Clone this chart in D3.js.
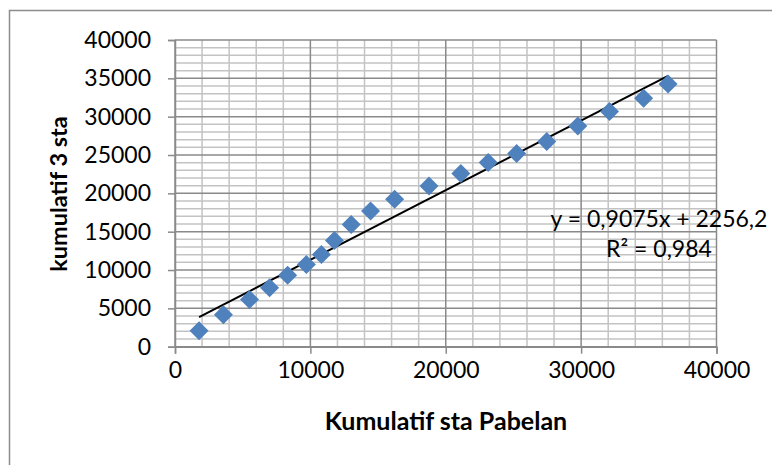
<!DOCTYPE html>
<html><head><meta charset="utf-8">
<script src="https://cdn.jsdelivr.net/npm/d3@7"></script>
<style>
html,body{margin:0;padding:0;background:#fff;}
svg{display:block;}
text{font-family:Lato,"Liberation Sans",sans-serif;fill:#000;}
</style></head>
<body><svg id="c" width="772" height="465"></svg>
<script>
const xValues = [1778, 3578, 5504, 6985, 8319, 9704, 10815, 11778, 13015, 14444, 16222, 18763, 21111, 23133, 25237, 27459, 29756, 32096, 34615, 36422];
const yValues = [2092, 4183, 6144, 7673, 9320, 10719, 12026, 13856, 15948, 17713, 19216, 20954, 22576, 24014, 25190, 26758, 28798, 30680, 32419, 34249];
const xTicks = [0, 10000, 20000, 30000, 40000];
const yTicks = [0, 5000, 10000, 15000, 20000, 25000, 30000, 35000, 40000];
const trendSlope = 0.9075, trendIntercept = 2256.2;
const eqLabel = "y = 0,9075x + 2256,2";
const r2Label = "R² = 0,984";
const xTitle = "Kumulatif sta Pabelan";
const yTitle = "kumulatif 3 sta";

const svg = d3.select("#c");
const L = 175, R = 716.5, T = 40, B = 346.7;
const x = d3.scaleLinear().domain([0, 40000]).range([L, R]);
const y = d3.scaleLinear().domain([0, 40000]).range([B, T]);

// outer chart border
svg.append("rect").attr("x", 9.5).attr("y", 10.5).attr("width", 800).attr("height", 500)
  .attr("fill", "none").attr("stroke", "#8c8c8c").attr("stroke-width", 1.5);

const g = svg.append("g");
// minor gridlines
const minorX = d3.range(0, 40001, 2000).filter(v => v % 10000 !== 0);
const minorY = d3.range(0, 40001, 1000).filter(v => v % 5000 !== 0);
g.selectAll(".mx").data(minorX).join("line")
  .attr("x1", d => x(d)).attr("x2", d => x(d)).attr("y1", T).attr("y2", B)
  .attr("stroke", "#c3c3c3").attr("stroke-width", 1.5);
g.selectAll(".my").data(minorY).join("line")
  .attr("x1", L).attr("x2", R).attr("y1", d => y(d)).attr("y2", d => y(d))
  .attr("stroke", "#c3c3c3").attr("stroke-width", 1.5);
// major gridlines
g.selectAll(".Mx").data(xTicks).join("line")
  .attr("x1", d => x(d)).attr("x2", d => x(d)).attr("y1", T).attr("y2", B)
  .attr("stroke", "#8a8a8a").attr("stroke-width", 1.5);
g.selectAll(".My").data(yTicks).join("line")
  .attr("x1", L).attr("x2", R).attr("y1", d => y(d)).attr("y2", d => y(d))
  .attr("stroke", "#8a8a8a").attr("stroke-width", 1.5);

// axes
const xAxis = d3.axisBottom(x).tickValues(xTicks).tickSize(7).tickPadding(8).tickFormat(d3.format("d"));
const yAxis = d3.axisLeft(y).tickValues(yTicks).tickSize(7).tickPadding(17).tickFormat(d3.format("d"));
const gx = svg.append("g").attr("transform", `translate(0,${B})`).call(xAxis);
const gy = svg.append("g").attr("transform", `translate(${L},0)`).call(yAxis);
[gx, gy].forEach(a => {
  a.select(".domain").attr("stroke", "#8a8a8a").attr("stroke-width", 1.5);
  a.selectAll(".tick line").attr("stroke", "#8a8a8a").attr("stroke-width", 1.5);
  a.selectAll("text").attr("font-family", "Lato").attr("font-size", 23).attr("fill", "#000");
});
gx.selectAll("text").attr("dy", "0.71em");

// trendline
const xmin = d3.min(xValues), xmax = d3.max(xValues);
svg.append("line")
  .attr("x1", x(xmin)).attr("y1", y(trendSlope * xmin + trendIntercept))
  .attr("x2", x(xmax)).attr("y2", y(trendSlope * xmax + trendIntercept))
  .attr("stroke", "#000").attr("stroke-width", 2);

// points
const pts = xValues.map((v, i) => [v, yValues[i]]);
svg.selectAll(".pt").data(pts).join("path")
  .attr("d", "M0,-9.5L9.5,0L0,9.5L-9.5,0Z")
  .attr("transform", d => `translate(${x(d[0])},${y(d[1])})`)
  .attr("fill", "#4f81bd");

// trendline label
svg.append("text").attr("x", 659).attr("y", 227).attr("text-anchor", "middle")
  .attr("font-size", 23).text(eqLabel);
svg.append("text").attr("x", 659).attr("y", 257).attr("text-anchor", "middle")
  .attr("font-size", 23).text(r2Label);

// titles
svg.append("text").attr("x", 446).attr("y", 430).attr("text-anchor", "middle")
  .attr("font-size", 25).attr("font-weight", "bold").text(xTitle);
svg.append("text").attr("transform", "translate(67,194) rotate(-90)").attr("text-anchor", "middle")
  .attr("font-size", 23.5).attr("font-weight", "bold").text(yTitle);
</script></body></html>
